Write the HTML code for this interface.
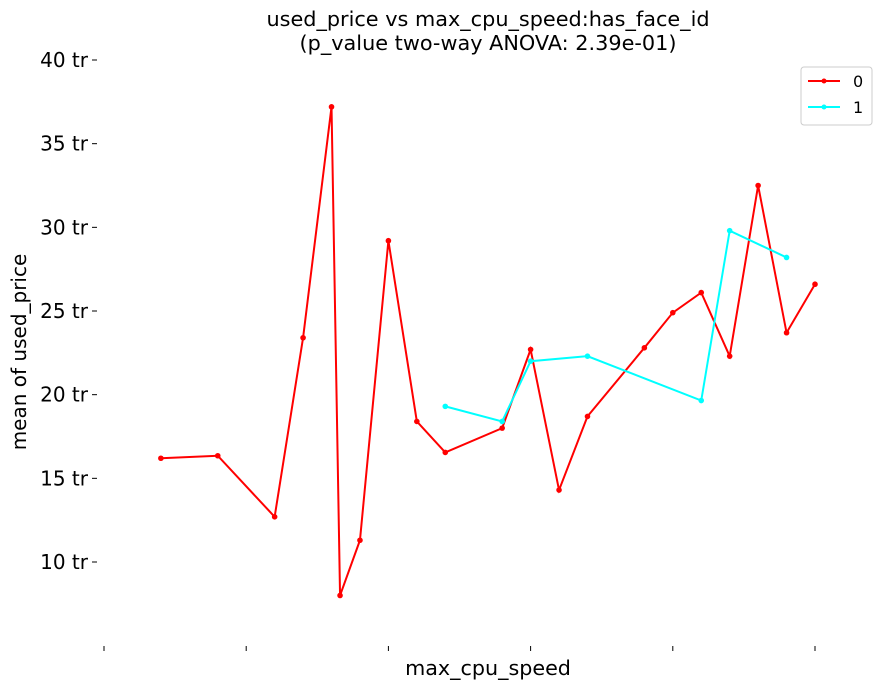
<!DOCTYPE html>
<html><head><meta charset="utf-8"><style>
body{margin:0;background:#fff;font-family:"DejaVu Sans",sans-serif}
</style></head><body>
<svg width="889" height="690" xmlns="http://www.w3.org/2000/svg" font-family="DejaVu Sans, sans-serif">
<text x="488" y="26" font-size="20.8" text-anchor="middle">used_price vs max_cpu_speed:has_face_id</text>
<text x="488" y="50" font-size="20.8" text-anchor="middle">(p_value two-way ANOVA: 2.39e-01)</text>
<text transform="translate(26,352) rotate(-90)" font-size="20" text-anchor="middle">mean of used_price</text>
<text x="488" y="675" font-size="20.7" text-anchor="middle">max_cpu_speed</text>
<g id="yaxis"></g><g id="xaxis"></g><g id="series"></g>
<g>
<rect x="801" y="67" width="71" height="58" rx="3" fill="#fff" stroke="#ccc"/>
<line x1="808" y1="81" x2="840" y2="81" stroke="#ff0000" stroke-width="2"/><circle cx="824" cy="81" r="2.5" fill="#ff0000"/>
<text x="853" y="87" font-size="16">0</text>
<line x1="808" y1="107" x2="840" y2="107" stroke="#00ffff" stroke-width="2"/><circle cx="824" cy="107" r="2.5" fill="#00ffff"/>
<text x="853" y="113" font-size="16">1</text>
</g>
</svg>
<script>
const yTicks=[10,15,20,25,30,35,40];
const xTicks=[0,1,2,3,4,5];
const redX=[0.4,0.8,1.2,1.4,1.6,1.66,1.8,2.0,2.2,2.4,2.8,3.0,3.2,3.4,3.8,4.0,4.2,4.4,4.6,4.8,5.0];
const redY=[16.2,16.35,12.7,23.4,37.2,8.0,11.3,29.2,18.4,16.55,18.0,22.7,14.3,18.7,22.8,24.9,26.1,22.3,32.5,23.7,26.6];
const cyanX=[2.4,2.8,3.0,3.4,4.2,4.4,4.8];
const cyanY=[19.3,18.4,22.0,22.3,19.65,29.8,28.2];
const NS="http://www.w3.org/2000/svg";
const xs=v=>104+v*142.2, ys=v=>562-(v-10)*16.733;
const ya=document.getElementById('yaxis'), xa=document.getElementById('xaxis'), sg=document.getElementById('series');
function mk(t,a,p){const e=document.createElementNS(NS,t);for(const k in a)e.setAttribute(k,a[k]);p.appendChild(e);return e;}
yTicks.forEach(v=>{
 const l=mk('line',{x1:92,x2:97,y1:ys(v),y2:ys(v),stroke:'#000'},ya);
 
 
 const t=mk('text',{x:88,y:ys(v)+7,'font-size':20,'text-anchor':'end'},ya);
 
 
 t.textContent=v+' tr';
});
xTicks.forEach(v=>{
 const l=mk('line',{x1:xs(v),x2:xs(v),y1:646,y2:651,stroke:'#000'},xa);
 
 
});
function series(X,Y,c,n){
 const p=mk('polyline',{points:X.map((x,i)=>xs(x)+','+ys(Y[i])).join(' '),fill:'none',stroke:c,'stroke-width':2},sg);
 
 
 X.forEach((x,i)=>{
  const d=mk('circle',{cx:xs(x),cy:ys(Y[i]),r:2.8,fill:c},sg);
  
  
 });
}
series(redX,redY,'#ff0000','has-face-id-0');
series(cyanX,cyanY,'#00ffff','has-face-id-1');
</script>
</body></html>
